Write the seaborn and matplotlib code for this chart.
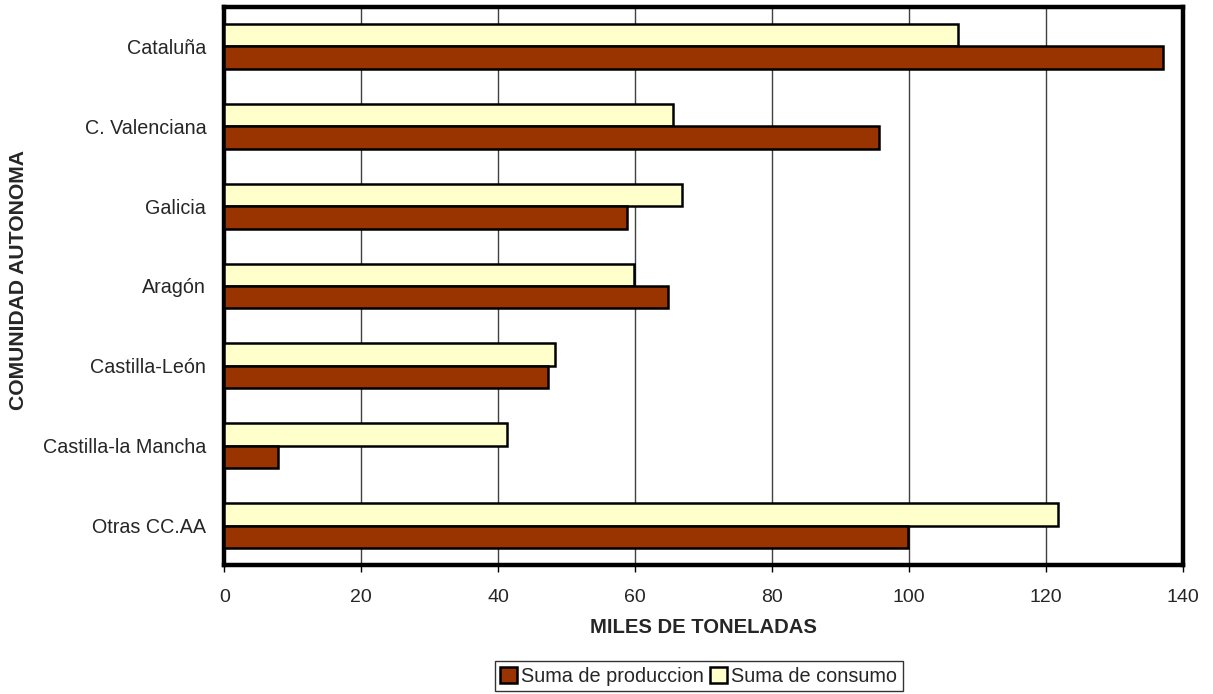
import pandas as pd
import matplotlib.pyplot as plt
import seaborn as sns
import numpy as np

# Datos (miles de toneladas)
comunidades = ['Cataluña', 'C. Valenciana', 'Galicia', 'Aragón',
               'Castilla-León', 'Castilla-la Mancha', 'Otras CC.AA']
produccion = [137.1, 95.6, 58.8, 64.8, 47.3, 7.8, 99.8]
consumo = [107.2, 65.5, 66.9, 59.8, 48.3, 41.3, 121.7]
x_ticks = [0, 20, 40, 60, 80, 100, 120, 140]

# Estilo
sns.set_theme(style="white")
plt.rcParams['font.family'] = ['Liberation Sans', 'DejaVu Sans']
plt.rcParams['font.size'] = 14

df = pd.concat([
    pd.DataFrame({'comunidad': comunidades, 'valor': consumo, 'serie': 'Suma de consumo'}),
    pd.DataFrame({'comunidad': comunidades, 'valor': produccion, 'serie': 'Suma de produccion'}),
])

fig = plt.figure(figsize=(12.13, 6.94), dpi=100)
ax = fig.add_axes([0.1849, 0.1852, 0.9753 - 0.1849, 0.9906 - 0.1852])

sns.barplot(data=df, y='comunidad', x='valor', hue='serie',
            hue_order=['Suma de consumo', 'Suma de produccion'],
            palette={'Suma de consumo': '#FFFFCC', 'Suma de produccion': '#993300'},
            saturation=1, order=comunidades, orient='h', width=0.56, gap=0,
            edgecolor='black', linewidth=1.8, ax=ax, zorder=3)

ax.set_xlim(0, 140)
ax.set_ylim(len(comunidades) - 0.5, -0.5)
ax.set_xticks(x_ticks)
ax.set_xticklabels([str(t) for t in x_ticks], fontsize=14)
ax.tick_params(axis='y', which='major', length=0, labelsize=14.2, pad=13)
ax.set_yticks(np.arange(-0.5, len(comunidades), 1.0), minor=True)
ax.tick_params(axis='y', which='minor', length=5, width=1, color='black', direction='out')
ax.tick_params(axis='x', which='major', length=5, width=1, color='black', direction='out',
               bottom=True, pad=12)

# Cuadrícula vertical
ax.grid(axis='x', color='#404040', linewidth=1, zorder=0)
ax.set_axisbelow(True)

for s in ax.spines.values():
    s.set_visible(True)
    s.set_color('black')
    s.set_linewidth(3.2)

ax.set_xlabel('MILES DE TONELADAS', fontsize=14.6, fontweight='bold')
ax.set_ylabel('COMUNIDAD AUTONOMA', fontsize=15.2, fontweight='bold')
ax.xaxis.set_label_coords(0.5, -0.094)
ax.yaxis.set_label_coords(-0.205, 0.51)

# Leyenda (produccion primero)
handles, labels = ax.get_legend_handles_labels()
ax.get_legend().remove()
leg = fig.legend(handles[::-1], labels[::-1], loc='upper center',
                 bbox_to_anchor=(0.576, 1 - 661 / 694), ncol=2, fontsize=14.3,
                 frameon=True, fancybox=False, edgecolor='black',
                 handlelength=0.85, handleheight=0.85, handletextpad=0.2,
                 columnspacing=0.3, borderpad=0.28, borderaxespad=0)
leg.get_frame().set_linewidth(1)

fig.savefig('out.png', dpi=100)
